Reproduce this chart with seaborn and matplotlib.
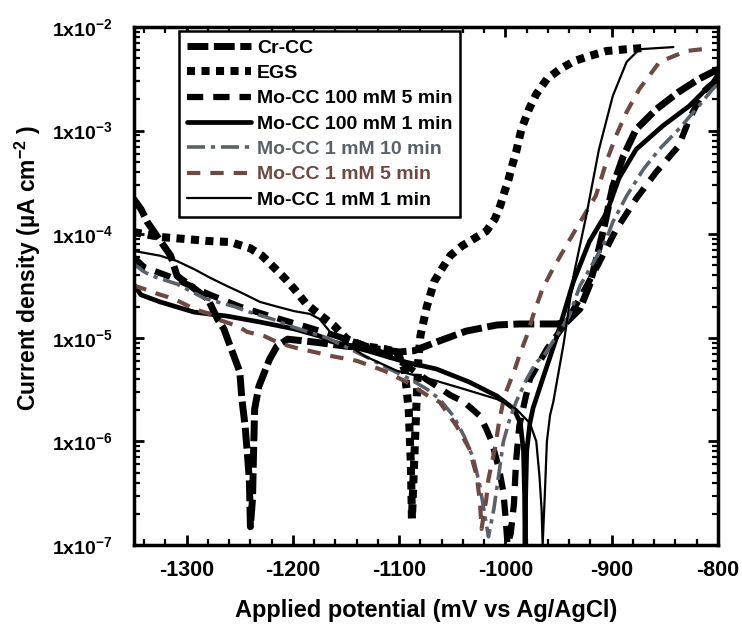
import numpy as np
import pandas as pd
import matplotlib
matplotlib.use("Agg")
import matplotlib.pyplot as plt
import seaborn as sns
from matplotlib.ticker import MultipleLocator, LogLocator, NullFormatter

# ---------------- data ----------------
series_names = ["Cr-CC", "EGS", "Mo-CC 100 mM 5 min", "Mo-CC 100 mM 1 min",
                "Mo-CC 1 mM 10 min", "Mo-CC 1 mM 5 min", "Mo-CC 1 mM 1 min"]

e_crcc = [-1350, -1343, -1337, -1326, -1315, -1309, -1296, -1280, -1271, -1265, -1259, -1250,
          -1248, -1245, -1243, -1241, -1240, -1238, -1237, -1236, -1232, -1222, -1215, -1205,
          -1180, -1150, -1120, -1100, -1086, -1065, -1037, -1008, -987, -952, -943, -930,
          -921, -915, -907, -899, -889, -877, -858, -837, -818, -805, -800]
i_crcc = [2.2e-4, 1.75e-4, 1.31e-4, 9.0e-5, 6.2e-5, 3.95e-5, 3.16e-5, 2.37e-5, 1.52e-5, 1.22e-5,
          8.3e-6, 4.7e-6, 2.56e-6, 1.41e-6, 7.9e-7, 4.3e-7, 1.5e-7, 2.8e-7, 8.0e-7, 2.06e-6,
          3.4e-6, 6.2e-6, 8.3e-6, 9.7e-6, 9.1e-6, 8.3e-6, 7.8e-6, 7.3e-6, 7.5e-6, 9.1e-6,
          1.16e-5, 1.33e-5, 1.36e-5, 1.36e-5, 1.4e-5, 1.9e-5, 3.2e-5, 5.4e-5, 1.2e-4, 2.9e-4,
          5.7e-4, 1.03e-3, 1.61e-3, 2.36e-3, 3.15e-3, 3.68e-3, 3.9e-3]

e_egs = [-1350, -1325, -1302, -1280, -1259, -1240, -1229, -1218, -1207, -1198, -1187, -1174,
         -1161, -1149, -1133, -1114, -1102, -1095, -1091, -1089, -1088, -1086, -1084, -1082,
         -1080, -1074, -1067, -1060, -1052, -1041, -1030, -1018, -1010, -1005, -1001, -997,
         -994, -990, -985, -978, -971, -961, -949, -935, -921, -905, -886, -868]
i_egs = [1.05e-4, 9.4e-5, 9.0e-5, 8.6e-5, 8.4e-5, 7.3e-5, 6.2e-5, 4.8e-5, 3.7e-5, 2.9e-5,
         2.1e-5, 1.65e-5, 1.3e-5, 9.7e-6, 8.3e-6, 7.8e-6, 7.3e-6, 5.0e-6, 2.0e-6, 6.0e-7,
         1.8e-7, 6.0e-7, 2.0e-6, 6.0e-6, 1.05e-5, 2.0e-5, 3.5e-5, 4.6e-5, 6.2e-5, 7.7e-5,
         9.0e-5, 1.07e-4, 1.4e-4, 1.87e-4, 2.55e-4, 3.4e-4, 4.5e-4, 6.2e-4, 1.03e-3, 1.6e-3,
         2.25e-3, 3.15e-3, 3.9e-3, 4.7e-3, 5.25e-3, 5.86e-3, 6.1e-3, 6.3e-3]

e_mo100_5 = [-1350, -1340, -1316, -1300, -1278, -1250, -1220, -1190, -1160, -1130, -1100, -1075,
             -1052, -1039, -1024, -1018, -1013, -1006, -1002, -1000, -998, -995, -992, -990,
             -987, -982, -977, -961, -943, -930, -915, -896, -877, -858, -837, -827, -814,
             -808, -800]
i_mo100_5 = [6.0e-5, 4.8e-5, 3.9e-5, 3.3e-5, 2.6e-5, 2.0e-5, 1.6e-5, 1.3e-5, 1.05e-5, 8.3e-6,
             6.0e-6, 4.0e-6, 2.8e-6, 2.4e-6, 1.76e-6, 1.32e-6, 1.0e-6, 5.4e-7, 3.25e-7, 1.9e-7,
             1.0e-7, 1.3e-7, 2.5e-7, 6.5e-7, 1.4e-6, 2.4e-6, 4.0e-6, 7.8e-6, 1.4e-5, 2.4e-5,
             4.6e-5, 1.1e-4, 2.2e-4, 4.0e-4, 7.1e-4, 1.29e-3, 2.36e-3, 2.69e-3, 3.1e-3]

e_mo100_1 = [-1350, -1343, -1325, -1293, -1262, -1231, -1199, -1175, -1165, -1130, -1093, -1065,
             -1034, -1008, -992, -986, -983, -982, -981.5, -981, -980, -977, -974, -964, -952,
             -936, -921, -905, -893, -877, -852, -827, -805, -800]
i_mo100_1 = [3.3e-5, 2.6e-5, 2.22e-5, 1.77e-5, 1.62e-5, 1.42e-5, 1.22e-5, 1.04e-5, 9.3e-6,
             7.5e-6, 5.8e-6, 5.0e-6, 3.74e-6, 2.74e-6, 2.06e-6, 1.5e-6, 8.0e-7, 3.0e-7, 9.0e-8,
             3.0e-7, 8.0e-7, 1.5e-6, 2.1e-6, 4.3e-6, 1.0e-5, 3.5e-5, 8.5e-5, 1.6e-4, 3.5e-4,
             6.6e-4, 1.11e-3, 1.73e-3, 2.9e-3, 3.5e-3]

e_mo1_10 = [-1350, -1341, -1334, -1309, -1283, -1255, -1243, -1218, -1203, -1168, -1133, -1109,
            -1090, -1074, -1062, -1049, -1039, -1030, -1024, -1020, -1016, -1011, -1006.5, -1002,
            -996, -990, -980, -971, -964, -952, -940, -930, -917, -905, -899, -886, -870, -855,
            -837, -818, -805, -800]
i_mo1_10 = [5.2e-5, 4.4e-5, 4.0e-5, 3.3e-5, 2.4e-5, 2.0e-5, 1.8e-5, 1.5e-5, 1.3e-5, 1.0e-5,
            6.7e-6, 5.0e-6, 4.0e-6, 3.2e-6, 2.56e-6, 1.76e-6, 1.13e-6, 6.8e-7, 3.7e-7, 2.1e-7,
            1.2e-7, 2.2e-7, 4.6e-7, 9.9e-7, 1.64e-6, 2.4e-6, 4.0e-6, 5.8e-6, 6.7e-6, 1.04e-5,
            1.62e-5, 3.16e-5, 5.4e-5, 9.0e-5, 1.31e-4, 2.34e-4, 4.26e-4, 6.64e-4, 1.03e-3,
            1.73e-3, 2.52e-3, 2.8e-3]

e_mo1_5 = [-1350, -1340, -1327, -1318, -1306, -1293, -1280, -1268, -1252, -1243, -1227, -1215,
           -1203, -1193, -1180, -1165, -1140, -1114, -1093, -1068, -1062, -1046, -1034, -1027,
           -1024, -1022.5, -1018, -1016, -1010, -1006, -1001, -992, -987, -980, -973, -965,
           -955, -942, -930, -915, -905, -896, -886, -874, -855, -830, -815]
i_mo1_5 = [3.2e-5, 2.96e-5, 2.65e-5, 2.48e-5, 2.22e-5, 1.9e-5, 1.72e-5, 1.47e-5, 1.3e-5, 1.14e-5,
           1.04e-5, 9.1e-6, 8.3e-6, 7.8e-6, 7.3e-6, 6.7e-6, 6.0e-6, 4.8e-6, 3.74e-6, 2.56e-6,
           2.4e-6, 1.41e-6, 8.5e-7, 4.6e-7, 2.6e-7, 1.43e-7, 2.8e-7, 4.3e-7, 8.5e-7, 1.54e-6,
           2.74e-6, 4.7e-6, 6.7e-6, 1.04e-5, 1.77e-5, 3.0e-5, 4.7e-5, 8.0e-5, 1.3e-4, 2.34e-4,
           5.0e-4, 8.9e-4, 1.51e-3, 2.52e-3, 4.6e-3, 5.86e-3, 6.1e-3]

e_mo1_1 = [-1350, -1325, -1309, -1293, -1278, -1262, -1246, -1231, -1215, -1199, -1184, -1175,
           -1165, -1149, -1133, -1102, -1071, -1039, -1008, -990, -977, -971, -968, -966, -965,
           -963, -961, -958, -955, -945, -936, -924, -912, -899, -886, -874, -842]
i_mo1_1 = [6.9e-5, 6.2e-5, 5.5e-5, 4.6e-5, 3.8e-5, 3.16e-5, 2.65e-5, 2.22e-5, 2.0e-5, 1.81e-5,
           1.7e-5, 1.52e-5, 1.14e-5, 8.7e-6, 6.7e-6, 4.8e-6, 4.0e-6, 3.2e-6, 2.56e-6, 2.06e-6,
           1.5e-6, 1.0e-6, 4.6e-7, 2.2e-7, 1.0e-7, 3.0e-7, 1.0e-6, 1.8e-6, 2.4e-6, 9.1e-6,
           3.95e-5, 1.5e-4, 6.6e-4, 2.16e-3, 4.6e-3, 6.1e-3, 6.4e-3]

x_ticks = [-1300, -1200, -1100, -1000, -900, -800]
x_tick_labels = ["-1300", "-1200", "-1100", "-1000", "-900", "-800"]
y_ticks = [1e-7, 1e-6, 1e-5, 1e-4, 1e-3, 1e-2]
y_tick_labels = [r"1x10$^{-7}$", r"1x10$^{-6}$", r"1x10$^{-5}$",
                 r"1x10$^{-4}$", r"1x10$^{-3}$", r"1x10$^{-2}$"]

# ---------------- styling ----------------
sns.set_theme(style="ticks")
plt.rcParams["font.family"] = ["Liberation Sans", "DejaVu Sans"]
plt.rcParams["font.weight"] = "bold"
plt.rcParams["mathtext.fontset"] = "custom"
plt.rcParams["mathtext.rm"] = "Liberation Sans:bold"
plt.rcParams["mathtext.it"] = "Liberation Sans:bold"
plt.rcParams["mathtext.bf"] = "Liberation Sans:bold"
plt.rcParams["axes.unicode_minus"] = False
for k in ["text.color", "axes.labelcolor", "xtick.color", "ytick.color", "axes.edgecolor"]:
    plt.rcParams[k] = "black"

styles = [
    dict(color="black", lw=5.0, ls=(0, (3.0, 0.8))),
    dict(color="black", lw=5.8, ls=(0, (1.0, 0.8))),
    dict(color="black", lw=4.5, ls=(0, (2.6, 1.6))),
    dict(color="black", lw=3.4, ls="-"),
    dict(color="#59626a", lw=2.6, ls=(0, (5, 1.6, 1.2, 1.6))),
    dict(color="#6e4843", lw=3.0, ls=(0, (3.2, 2.4))),
    dict(color="black", lw=1.6, ls="-"),
]
data = [(e_crcc, i_crcc), (e_egs, i_egs), (e_mo100_5, i_mo100_5), (e_mo100_1, i_mo100_1),
        (e_mo1_10, i_mo1_10), (e_mo1_5, i_mo1_5), (e_mo1_1, i_mo1_1)]

fig = plt.figure(figsize=(7.42, 6.27), dpi=100)
ax = fig.add_axes([133.5 / 742, 1 - 545 / 627, (718 - 133.5) / 742, (545 - 27) / 627])

for name, (e, i), st in zip(series_names, data, styles):
    df = pd.DataFrame({"E": e, "i": i})
    sns.lineplot(data=df, x="E", y="i", ax=ax, sort=False, estimator=None,
                 color=st["color"], linewidth=st["lw"], linestyle=st["ls"], label=name)

ax.set_yscale("log")
ax.set_xlim(-1350, -800)
ax.set_ylim(1e-7, 1e-2)
ax.set_xticks(x_ticks, labels=x_tick_labels)
ax.xaxis.set_minor_locator(MultipleLocator(20))
ax.set_yticks(y_ticks, labels=y_tick_labels)
ax.yaxis.set_minor_locator(LogLocator(base=10, subs=np.arange(2, 10), numticks=20))
ax.yaxis.set_minor_formatter(NullFormatter())

for s in ax.spines.values():
    s.set_linewidth(2.5)
    s.set_color("black")
ax.tick_params(which="major", direction="in", length=7, width=2, top=True, right=True)
ax.tick_params(axis="x", which="major", pad=11, labelsize=15.5)
ax.tick_params(axis="y", which="major", pad=15, labelsize=14)
ax.tick_params(which="minor", direction="in", length=4, width=1.6, top=True, right=True)
for lab in ax.get_xticklabels() + ax.get_yticklabels():
    lab.set_fontweight("bold")

ax.set_xlabel("Applied potential (mV vs Ag/AgCl)", fontsize=17, fontweight="bold", labelpad=13)
ax.set_ylabel("Current density (µA cm$^{-2}$ )", fontsize=16.5, fontweight="bold", labelpad=8)
ax.yaxis.set_label_coords(-0.155, 0.535)

leg = ax.legend(loc="upper left", bbox_to_anchor=(0.078, 0.992), frameon=True, fancybox=False,
                edgecolor="black", framealpha=1, prop={"weight": "bold", "size": 14},
                handlelength=3.3, handletextpad=0.3, labelspacing=0.4, borderpad=0.4,
                borderaxespad=0, labelcolor="linecolor")
leg.get_frame().set_linewidth(1.8)

fig.savefig("out.png", dpi=100)
